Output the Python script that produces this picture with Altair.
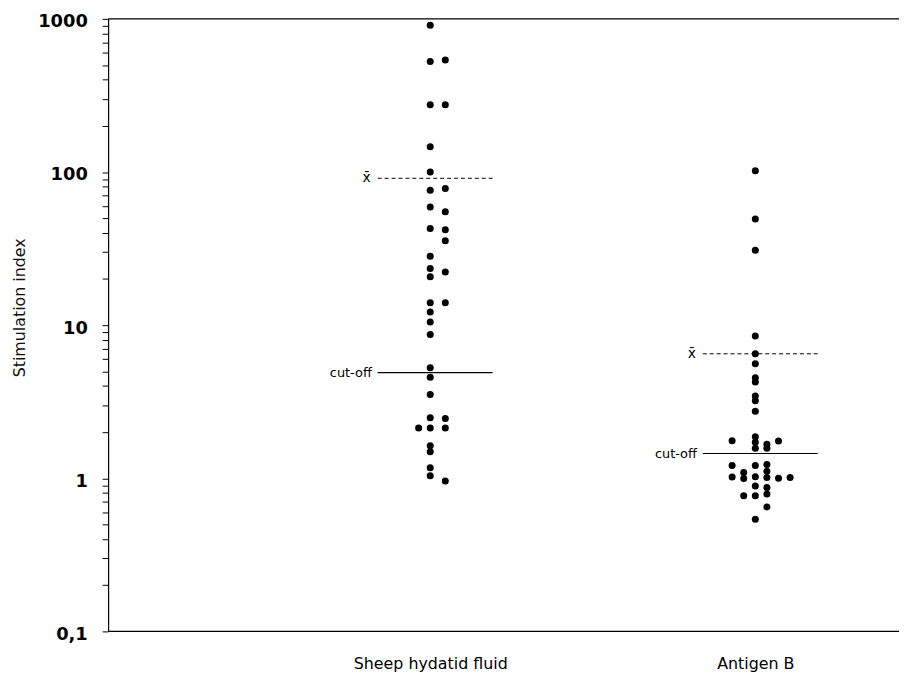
import altair as alt
import pandas as pd

categories = ["Sheep hydatid fluid", "Antigen B"]

# Stimulation index of each dot, and its horizontal slot within the column
sheep_values = [910, 526, 539, 275, 275, 146, 100, 76, 78, 59, 55, 42.8, 42,
                35.6, 28.2, 23.4, 22.2, 20.7, 14, 14, 12.2, 10.5, 8.7, 5.26,
                4.57, 3.53, 2.48, 2.46, 2.13, 2.13, 2.13, 1.63, 1.49, 1.17,
                1.04, 0.96]
sheep_slots = [0, 0, 1.3, 0, 1.3, 0, 0, 0, 1.3, 0, 1.3, 0, 1.3,
               1.3, 0, 0, 1.3, 0, 0, 1.3, 0, 0, 0, 0,
               0, 0, 0, 1.3, -1, 0, 1.3, 0, 0, 0,
               0, 1.3]

antigen_values = [102, 49.3, 30.8, 8.5, 6.5, 5.6, 4.53, 4.26, 3.44, 3.21, 2.74,
                  1.87, 1.72, 1.57, 1.67, 1.57, 1.76, 1.75,
                  1.21, 1.02, 1.09, 0.995, 0.77, 1.21, 1.024, 0.89, 0.77, 0.54,
                  1.23, 1.11, 1.01, 0.87, 0.79, 0.65, 1.0, 1.01]
antigen_slots = [0, 0, 0, 0, 0, 0, 0, 0, 0, 0, 0,
                 0, 0, 0, 1, 1, -2, 2,
                 -2, -2, -1, -1, -1, 0, 0, 0, 0, 0,
                 1, 1, 1, 1, 1, 1, 2, 3]

mean_values = [91, 6.5]
cutoff_values = [4.9, 1.45]
mean_label = "x\u0304"
cutoff_label = "cut-off"

y_major = [0.1, 1, 10, 100, 1000]
y_ticks = [m * 10 ** e for e in range(-1, 3) for m in range(1, 10)] + [1000]
frame_values = [0.1, 1000]

points = pd.DataFrame({
    "group": [categories[0]] * len(sheep_values) + [categories[1]] * len(antigen_values),
    "value": sheep_values + antigen_values,
    "slot": sheep_slots + antigen_slots,
})
means = pd.DataFrame({"group": categories, "value": mean_values,
                      "label": [mean_label] * 2})
cutoffs = pd.DataFrame({"group": categories, "value": cutoff_values,
                        "label": [cutoff_label] * 2})

FONT = "DejaVu Sans"

x_enc = alt.X(
    "group:N",
    scale=alt.Scale(type="point", domain=categories, range=[325, 653], padding=0),
    axis=alt.Axis(title=None, ticks=False, domain=False, labelFont=FONT,
                  labelFontSize=16, labelColor="black", labelPadding=24,
                  labelAngle=0, grid=False),
)

major_test = "abs(log(datum.value)/LN10 - round(log(datum.value)/LN10)) < 0.001"

y_scale = alt.Scale(type="log", domain=[0.1, 1000], nice=False)
y_enc = alt.Y(
    "value:Q",
    scale=y_scale,
    axis=alt.Axis(
        title="Stimulation index", titleFont=FONT, titleFontSize=16,
        titleFontWeight="normal", titleColor="#111", titleX=-89, titleY=291,
        titleBaseline="middle", titleAngle=270,
        values=y_ticks,
        labelExpr=f"({major_test}) ? replace(format(datum.value, '~g'), '.', ',') : ''",
        labelFont=FONT, labelFontWeight="bold", labelFontSize=18,
        labelColor="black", labelPadding=15, labelOffset=3,
        tickSize=6, tickColor="black", tickWidth=1,
        domainColor="black", domainWidth=1.2, grid=False,
    ),
)

dots = alt.Chart(points).mark_circle(size=50, color="black", opacity=1).encode(
    x=x_enc,
    xOffset=alt.XOffset("slot:Q", scale=alt.Scale(domain=[-1, 1], range=[-11.7, 11.7])),
    y=y_enc,
)

mean_rules = alt.Chart(means).mark_rule(
    color="black", strokeWidth=1, strokeDash=[4, 3], xOffset=-53, x2Offset=63
).encode(x=alt.X("group:N"), x2="group", y="value:Q")

cut_rules = alt.Chart(cutoffs).mark_rule(
    color="black", strokeWidth=1.1, xOffset=-53, x2Offset=63
).encode(x=alt.X("group:N"), x2="group", y="value:Q")

mean_text = alt.Chart(means).mark_text(
    align="right", baseline="middle", xOffset=-60, font=FONT, fontSize=14,
    color="black"
).encode(x=alt.X("group:N"), y="value:Q", text="label:N")

cut_text = alt.Chart(cutoffs).mark_text(
    align="right", baseline="middle", xOffset=-59, font=FONT, fontSize=13,
    color="black"
).encode(x=alt.X("group:N"), y="value:Q", text="label:N")

# top and bottom frame lines
frame = alt.Chart(pd.DataFrame({"v": frame_values})).mark_rule(
    color="black", strokeWidth=1.2
).encode(y=alt.Y("v:Q"))

chart = alt.layer(dots, mean_rules, cut_rules, mean_text, cut_text, frame).properties(
    width=798, height=618,
    autosize=alt.AutoSizeParams(type="none"),
    padding={"left": 101, "top": 8, "right": 4, "bottom": 40},
    background="white",
).configure_view(strokeWidth=0)

chart.save("out.html", embed_options={"renderer": "svg", "actions": False})
